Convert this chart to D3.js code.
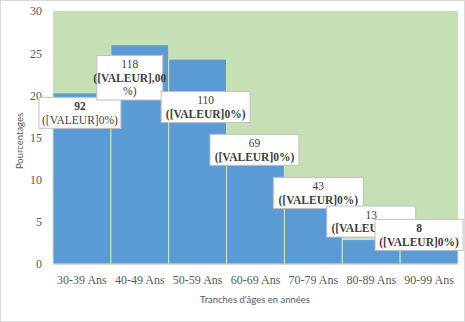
<!DOCTYPE html>
<html><head><meta charset="utf-8">
<script src="https://cdn.jsdelivr.net/npm/d3@7"></script>
<style>body{margin:0;background:#fff}svg{display:block}</style>
</head><body>
<script>
const categories = ["30-39 Ans","40-49 Ans","50-59 Ans","60-69 Ans","70-79 Ans","80-89 Ans","90-99 Ans"];
const counts = [92,118,110,69,43,13,8];
const percents = [20.3,26.0,24.3,15.2,9.5,2.9,1.8];
const yTicks = [0,5,10,15,20,25,30];
const yTitle = "Pourcentages";
const xTitle = "Tranches d'âges en années";
// label lines: [text, bold]
const labelLines = [
  [["92",true],["([VALEUR]0%)",false]],
  [["118",false],["([VALEUR],00",true],["%)",false]],
  [["110",false],["([VALEUR]0%)",true]],
  [["69",false],["([VALEUR]0%)",true]],
  [["43",false],["([VALEUR]0%)",true]],
  [["13",false],["([VALEUR]0%)",true]],
  [["8",true],["([VALEUR]0%)",true]]
];
// layout: label box offsets (centre relative to bar centre / bar top)
const labelDx = [-2,-10,8,-1,5,0,-10];
const labelDy = [20,33,48,14,9,-18,-14];
const boxW = [82,66,89,89,90,89,88];

const W=465,H=322;
const svg=d3.select("body").append("svg").attr("width",W).attr("height",H);
svg.append("rect").attr("x",0.5).attr("y",0.5).attr("width",W-1).attr("height",H-1)
  .attr("fill","#fff").attr("stroke","#d9d9d9");
const L=53,R=458,T=11,B=264;
const x=d3.scaleBand().domain(categories).range([L,R]).padding(0);
const y=d3.scaleLinear().domain([0,30]).range([B,T]);
svg.append("rect").attr("x",L).attr("y",T).attr("width",R-L).attr("height",B-T).attr("fill","#c5e0b4");

svg.selectAll("rect.bar").data(categories).enter().append("rect").attr("class","bar")
  .attr("x",d=>x(d)).attr("width",x.bandwidth())
  .attr("y",(d,i)=>y(percents[i])).attr("height",(d,i)=>B-y(percents[i]))
  .attr("fill","#5b9bd5").attr("stroke","#d3e6b5").attr("stroke-width",1);

svg.append("line").attr("x1",L).attr("x2",R).attr("y1",B+0.5).attr("y2",B+0.5).attr("stroke","#d9d9d9");

const yAxis=svg.append("g").attr("transform",`translate(${L},0)`)
  .call(d3.axisLeft(y).tickValues(yTicks).tickSize(0).tickPadding(11));
yAxis.select(".domain").remove();
yAxis.selectAll("text").attr("font-family","'Liberation Serif',serif").attr("font-size",12).attr("fill","#595959");

const xAxis=svg.append("g").attr("transform",`translate(0,${B})`)
  .call(d3.axisBottom(x).tickSize(0).tickPadding(11));
xAxis.select(".domain").remove();
xAxis.selectAll("text").attr("font-family","'Liberation Serif',serif").attr("font-size",12).attr("fill","#595959");

svg.append("text").attr("transform","translate(23,141) rotate(-90)").attr("text-anchor","middle")
  .attr("font-family","Lato,'Liberation Sans',sans-serif").attr("font-size",9.5).attr("fill","#595959").text(yTitle);
svg.append("text").attr("x",255).attr("y",303).attr("text-anchor","middle")
  .attr("font-family","Lato,'Liberation Sans',sans-serif").attr("font-size",9.5).attr("fill","#595959").text(xTitle);

const lh=13.5;
categories.forEach((c,i)=>{
  const lines=labelLines[i];
  const cx=x(c)+x.bandwidth()/2+labelDx[i];
  const cy=y(percents[i])+labelDy[i];
  const h=lines.length*lh+4;
  const g=svg.append("g");
  g.append("rect").attr("x",cx-boxW[i]/2).attr("y",cy-h/2).attr("width",boxW[i]).attr("height",h)
    .attr("fill","#fff").attr("stroke","#bfbfbf");
  lines.forEach((ln,j)=>{
    g.append("text").attr("x",cx).attr("y",cy-h/2+2+lh*(j+0.5)).attr("dy","0.35em")
      .attr("text-anchor","middle").attr("font-family","'Liberation Serif',serif").attr("font-size",11.5)
      .attr("font-weight",ln[1]?"bold":"normal").attr("fill","#404040").text(ln[0]);
  });
  g.attr("data-count",counts[i]);
});
</script>
</body></html>
